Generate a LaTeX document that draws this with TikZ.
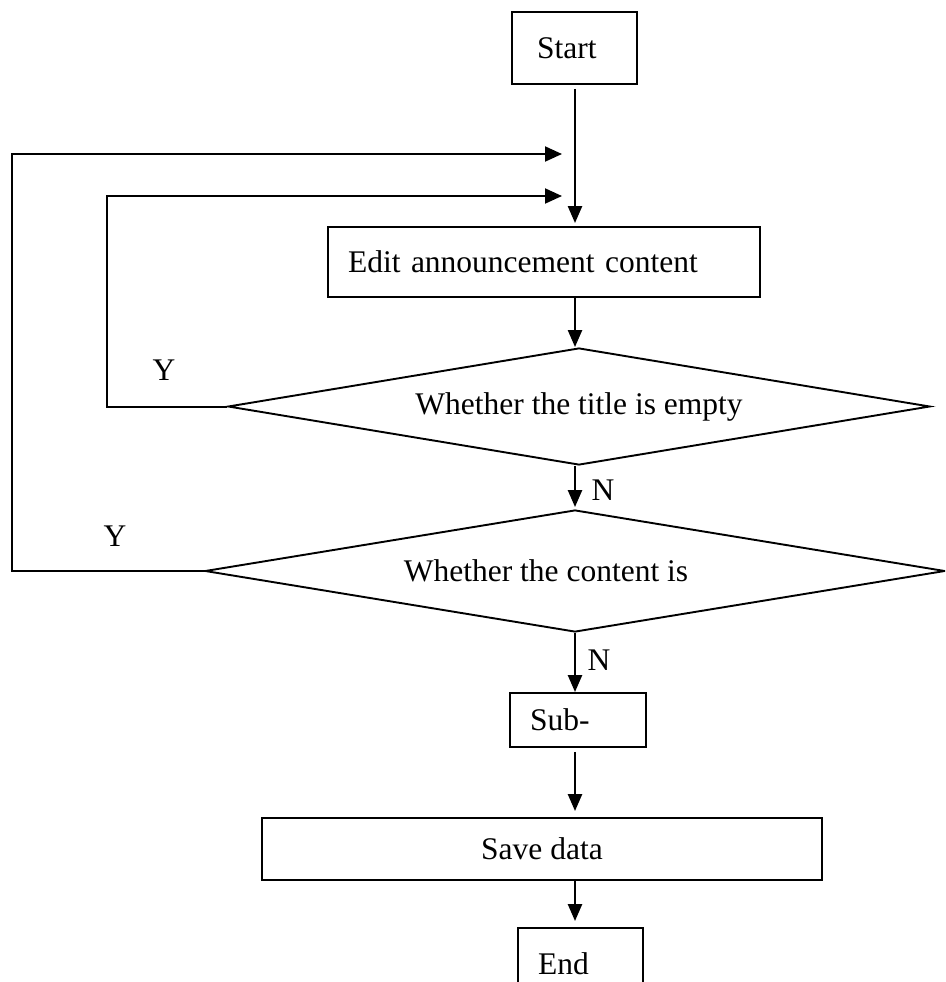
\documentclass[tikz,border=0pt]{standalone}
\usepackage{fontspec}
\setmainfont{Liberation Serif}
\usetikzlibrary{arrows.meta,shapes.geometric}

\tikzset{
  every node/.style={font=\fontsize{31.5}{36}\selectfont},
  box/.style={draw, line width=1.9pt, rectangle, align=left, inner ysep=0pt},
  decision/.style={draw, line width=1.9pt, diamond, inner sep=0pt},
  flow/.style={line width=2.4pt, -{Triangle[length=17pt,width=14pt]}},
  loopline/.style={line width=2pt, -{Triangle[length=17pt,width=15pt]}},
  tag/.style={inner sep=0pt}
}

\begin{document}
\begin{tikzpicture}[x=1pt,y=-1pt]
  \useasboundingbox (0,0) rectangle (945,982);
  \clip (0,0) rectangle (945,982);

  % main column of the flow
  \coordinate (col) at (575,0);

  \node[box, inner xsep=25pt, text width=75pt, minimum height=72pt] (start) at (574.5,48) {Start};
  \node[box, inner xsep=20pt, text width=392pt, minimum height=70pt] (edit) at (544,262) {Edit announcement content};
  \node[decision, minimum width=702pt, minimum height=117pt,
        label={[tag]center:Whether the title is empty}] (d1) at (579,406.5) {};
  \node[decision, minimum width=740pt, minimum height=122pt,
        label={[tag, xshift=-29pt]center:Whether the content is}] (d2) at (575,571) {};
  \node[box, inner xsep=20pt, text width=96pt, minimum height=54pt] (sub) at (578,720) {Sub-};
  \node[box, align=center, minimum width=560pt, minimum height=62pt] (save) at (542,849) {Save data};
  \node[box, inner xsep=20pt, text width=85pt, minimum height=72pt] (end) at (580.5,964) {End};

  % straight-down connectors
  \draw[flow] ([yshift=-4pt]start.south -| col) -- ([yshift=3pt]edit.north -| col);
  \draw[flow] (edit.south -| col) -- (d1.north -| col);
  \draw[flow] (d1.south -| col) -- ([yshift=2pt]d2.north -| col);
  \draw[flow] (d2.south -| col) -- (sub.north -| col);
  \draw[flow] ([yshift=-4pt]sub.south -| col) -- ([yshift=6pt]save.north -| col);
  \draw[flow] (save.south -| col) -- ([yshift=6pt]end.north -| col);

  % return loops back to editing
  \coordinate (innerX) at (107,0);
  \coordinate (outerX) at (12,0);
  \coordinate (innerEnd) at (562,196);
  \coordinate (outerEnd) at (562,154);
  \draw[loopline] (d1.west) -- (d1.west -| innerX) |- (innerEnd);
  \draw[loopline] (d2.west) -- (d2.west -| outerX) |- (outerEnd);

  % branch labels
  \node[tag] (y1) at (164,370) {Y};
  \node[tag] (y2) at (115,536) {Y};
  \node[tag] (n1) at (603,490) {N};
  \node[tag] (n2) at (599,660) {N};
\end{tikzpicture}
\end{document}
